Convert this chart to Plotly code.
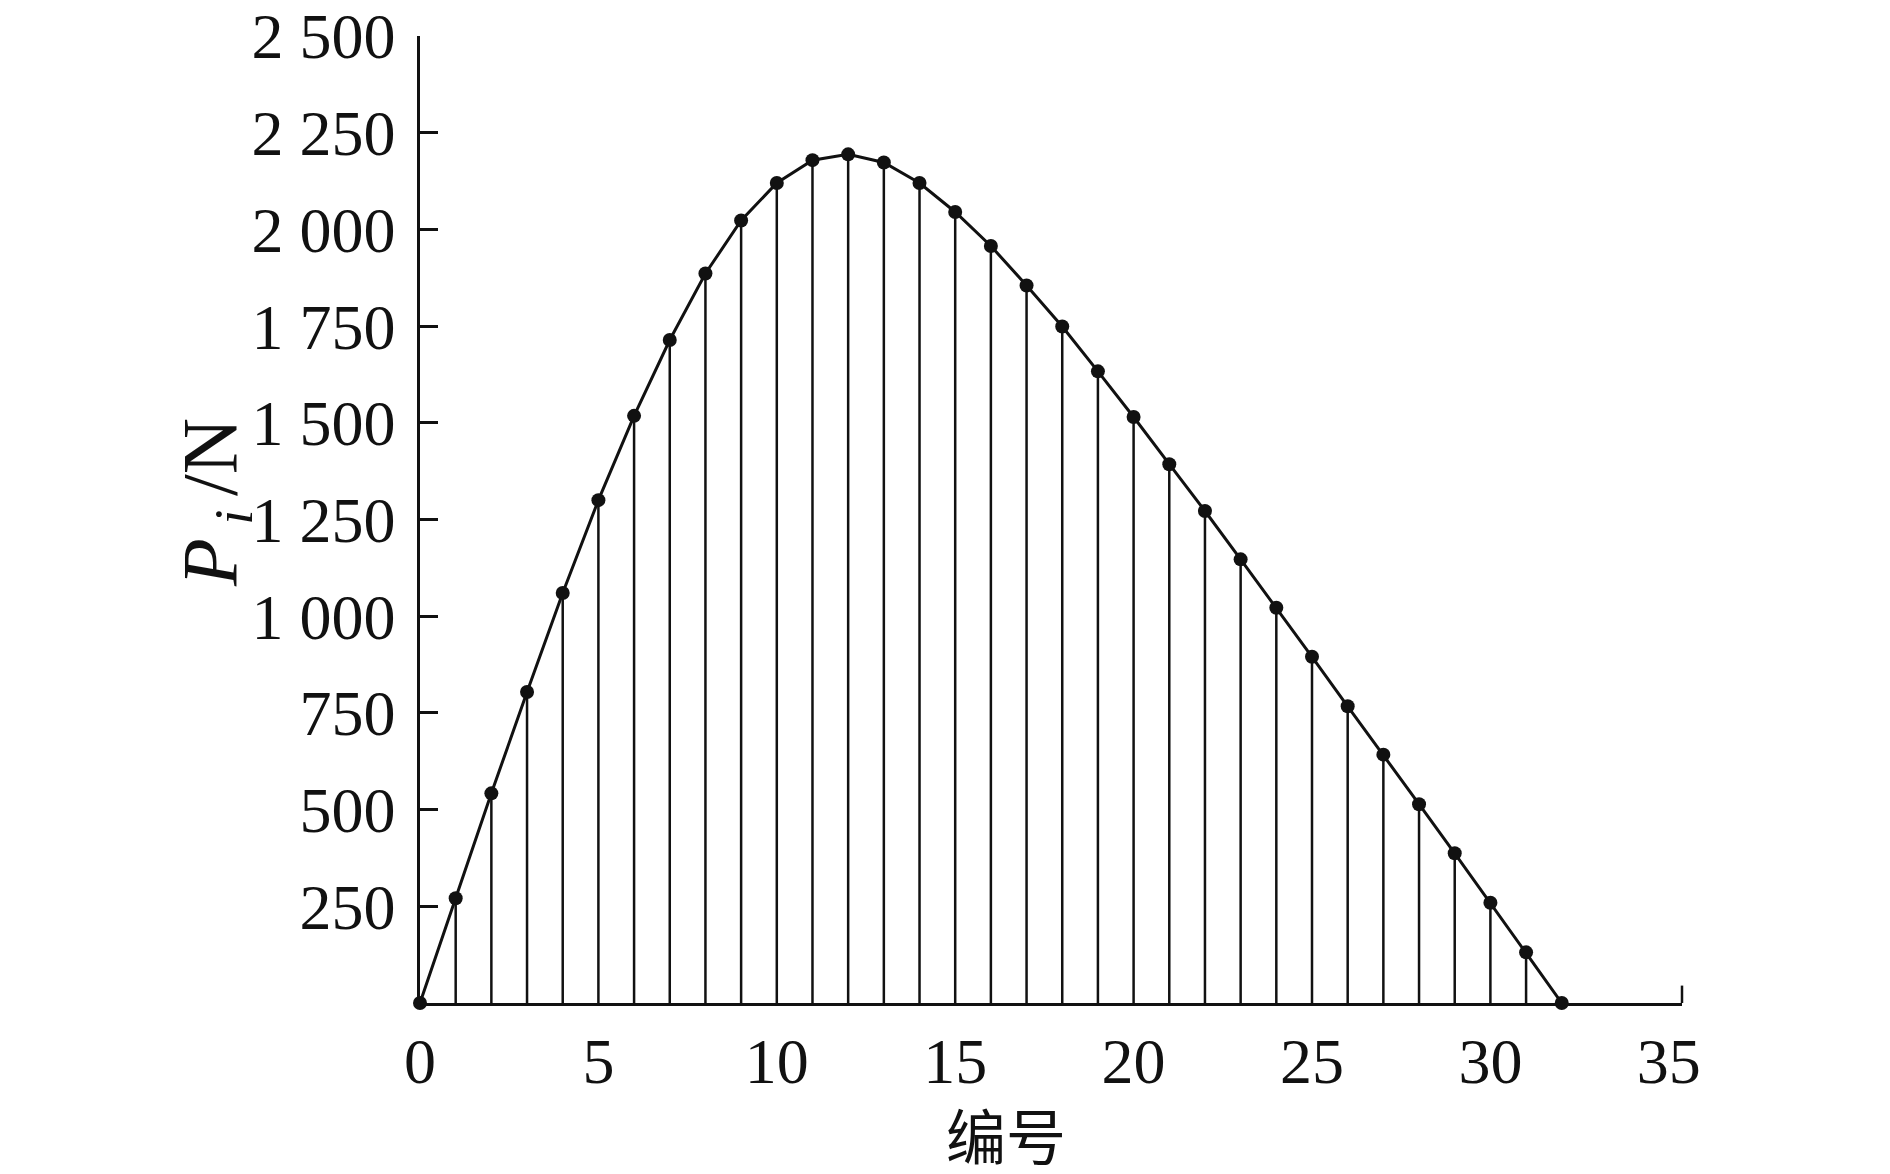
import plotly.graph_objects as go

# data
numbers = list(range(33))
forces = [0, 271, 542, 804, 1060, 1300, 1518, 1714, 1886, 2023, 2120, 2179, 2194,
          2173, 2120, 2045, 1957, 1855, 1749, 1633, 1515, 1393, 1272, 1147, 1022,
          895, 767, 642, 514, 387, 259, 131, 0]

x_ticks = [0, 5, 10, 15, 20, 25, 30, 35]
x_labels = ["0", "5", "10", "15", "20", "25", "30", "35"]
y_ticks = [250, 500, 750, 1000, 1250, 1500, 1750, 2000, 2250, 2500]
y_labels = ["250", "500", "750", "1 000", "1 250", "1 500", "1 750", "2 000", "2 250", "2 500"]

serif = "Liberation Serif, Times New Roman, serif"

# vertical stems from the axis up to each point
stem_x, stem_y = [], []
for n, p in zip(numbers, forces):
    stem_x += [n, n, None]
    stem_y += [0, p, None]

fig = go.Figure()
fig.add_trace(go.Scatter(x=stem_x, y=stem_y, mode="lines",
                         line=dict(color="#111", width=2.5), hoverinfo="skip", showlegend=False))
fig.add_trace(go.Scatter(x=numbers, y=forces, mode="lines+markers",
                         line=dict(color="#111", width=3),
                         marker=dict(color="#111", size=14),
                         cliponaxis=False, showlegend=False))

fig.update_layout(
    width=1890, height=1174,
    paper_bgcolor="white", plot_bgcolor="white",
    margin=dict(l=412, r=216, t=28, b=179, autoexpand=False),
    font=dict(family=serif, size=64, color="#111"),
    xaxis=dict(range=[0, 35.37], tickvals=x_ticks, ticktext=x_labels, ticks="",
               showline=True, linecolor="#111", linewidth=2.5, showgrid=False,
               zeroline=False, ticklabelstandoff=0, automargin=False,
               ticklabeloverflow="allow"),
    yaxis=dict(range=[0, 2500], tickvals=y_ticks, ticktext=y_labels,
               ticks="inside", ticklen=18, tickwidth=2.5, tickcolor="#111",
               showline=True, linecolor="#111", linewidth=2.5, showgrid=False,
               zeroline=False, ticklabelstandoff=9, automargin=False,
               ticklabeloverflow="allow"),
    annotations=[
        dict(text="<i>P</i><sub> <i>i</i> </sub>/N", xref="paper", yref="paper",
             x=0, y=0.517, xshift=-205, xanchor="center", yanchor="middle",
             textangle=-90, showarrow=False,
             font=dict(family=serif, size=78, color="#111")),
        dict(text="编号", xref="paper", yref="paper", x=0.464, y=0, yshift=-130,
             xanchor="center", yanchor="middle", showarrow=False,
             font=dict(family="Noto Sans CJK SC", size=60, color="#111")),
    ],
    shapes=[dict(type="line", xref="x domain", yref="y domain", x0=1, x1=1, y0=0, y1=0.018,
                 line=dict(color="#111", width=2.5))],
)

fig.write_html("out.html")
